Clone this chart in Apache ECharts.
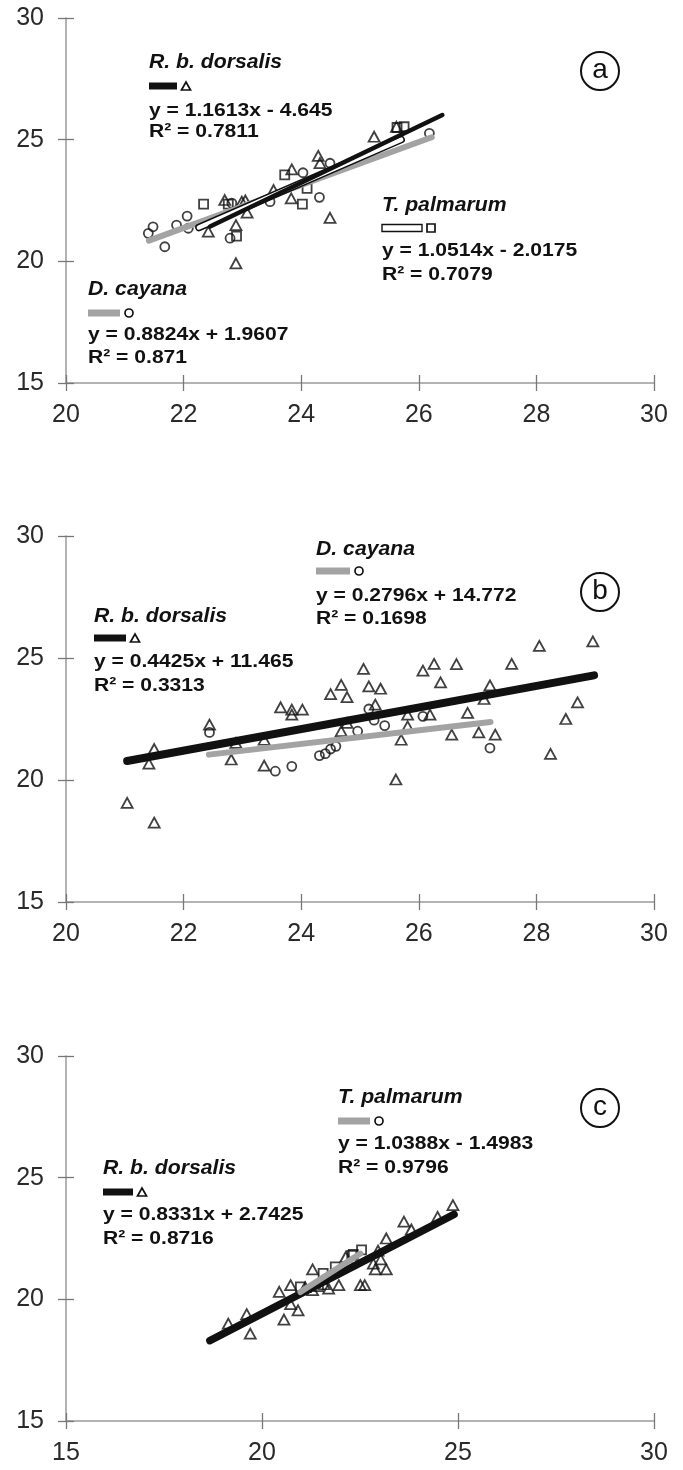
<!DOCTYPE html>
<html>
<head>
<meta charset="utf-8">
<script src="https://cdn.jsdelivr.net/npm/echarts@6/dist/echarts.min.js"></script>
<style>
html,body{margin:0;padding:0;background:#fff;}
#c{width:683px;height:1470px;}
</style>
</head>
<body>
<div id="c"></div>
<script>
// ---------- DATA ----------
// Panel (a)
const aDorsalisPts = [[22.42,21.22],[22.70,22.52],[22.89,21.49],[22.89,19.92],[22.99,22.45],[23.08,22.0],[23.05,22.5],[23.53,22.93],[23.84,23.78],[23.83,22.59],[24.29,24.33],[24.32,24.04],[24.49,21.79],[25.24,25.12],[25.62,25.53]];
const aPalmarumPts = [[22.34,22.35],[22.76,22.35],[22.90,21.04],[23.72,23.55],[24.10,23.0],[24.02,22.35],[25.63,25.5],[25.75,25.53]];
const aCayanaPts = [[21.40,21.15],[21.48,21.42],[21.68,20.60],[21.88,21.49],[22.06,21.86],[22.08,21.36],[22.79,20.95],[22.82,22.39],[23.47,22.45],[24.03,23.64],[24.31,22.63],[24.49,24.03],[26.18,25.26]];
const aDorsalisTrend = [[22.45,21.43],[26.40,26.01]];
const aPalmarumTrend = [[22.26,21.39],[25.70,25.00]];
const aCayanaTrend = [[21.41,20.85],[26.22,25.10]];
// Panel (b)
const bDorsalisPts = [[21.04,19.06],[21.41,20.67],[21.50,21.27],[21.50,18.25],[22.44,22.27],[22.81,20.84],[22.89,21.52],[23.37,21.65],[23.37,20.59],[23.65,22.98],[23.84,22.88],[23.84,22.68],[24.02,22.88],[24.50,23.52],[24.68,23.90],[24.78,23.40],[24.78,22.34],[24.68,22.0],[25.06,24.55],[25.15,23.84],[25.35,23.74],[25.26,23.09],[25.61,20.02],[25.70,21.65],[25.81,22.20],[25.81,22.68],[26.07,24.48],[26.26,24.76],[26.19,22.68],[26.37,24.0],[26.56,21.86],[26.64,24.75],[26.83,22.75],[27.02,21.95],[27.11,23.32],[27.21,23.88],[27.30,21.86],[27.58,24.76],[28.05,25.50],[28.24,21.07],[28.50,22.50],[28.70,23.18],[28.96,25.68]];
const bCayanaPts = [[22.44,21.95],[23.56,20.36],[23.84,20.56],[24.31,21.0],[24.41,21.08],[24.50,21.27],[24.59,21.38],[24.96,22.0],[25.15,22.91],[25.24,22.45],[25.42,22.23],[26.07,22.61],[27.21,21.31]];
const bDorsalisTrend = [[21.04,20.78],[28.98,24.29]];
const bCayanaTrend = [[22.43,21.04],[27.22,22.38]];
// Panel (c)
const cDorsalisPts = [[19.14,19.0],[19.61,19.39],[19.70,18.59],[20.44,20.31],[20.56,19.17],[20.73,20.58],[20.73,19.80],[20.92,19.55],[21.29,21.23],[21.29,20.38],[21.59,20.62],[21.70,20.44],[21.96,20.58],[22.14,21.75],[22.51,20.58],[22.62,20.58],[22.84,21.47],[22.89,21.23],[23.03,21.64],[23.17,21.23],[23.17,22.50],[23.62,23.19],[23.81,22.87],[24.48,23.39],[24.87,23.87],[22.96,22.0],[21.1,20.5]];
const cPalmarumPts = [[20.98,20.51],[21.44,20.52],[21.56,21.07],[21.87,21.33],[22.29,21.81],[22.33,21.85],[22.54,22.03]];
const cDorsalisTrend = [[18.67,18.30],[24.90,23.49]];
const cPalmarumTrend = [[20.98,20.30],[22.51,21.88]];
// Axes
const xRangeAB = {min:20, max:30, interval:2};
const xRangeC = {min:15, max:30, interval:5};
const yRange = {min:15, max:30, interval:5};

// ---------- CHART ----------
const chart = echarts.init(document.getElementById('c'), null, {renderer:'canvas'});
const AX = '#9a9a9a';
const GRAY = '#a3a3a3';
const tickFont = {fontFamily:'"Liberation Sans", Arial, sans-serif', fontSize:25, color:'#2a2a2a'};
const grids = [
  {left:66, top:18, width:588, height:365},
  {left:66, top:536, width:588, height:366},
  {left:66, top:1056, width:588, height:365}
];
function xAx(gi, r, inside){
  return {type:'value', gridIndex:gi, min:r.min, max:r.max, interval:r.interval, position:'bottom', offset:0,
    axisLine:{show:!inside, onZero:false, lineStyle:{color:AX, width:1.5}},
    axisTick:{show:true, inside:inside, length:8, lineStyle:{color:'#777', width:1.3}},
    axisLabel:{show:!inside, margin:20, ...tickFont},
    splitLine:{show:false}};
}
function yAx(gi, inside){
  return {type:'value', gridIndex:gi, min:yRange.min, max:yRange.max, interval:yRange.interval, position:'left', offset:0,
    axisLine:{show:!inside, onZero:false, lineStyle:{color:AX, width:1.5}},
    axisTick:{show:true, inside:inside, length:8, lineStyle:{color:'#777', width:1.3}},
    axisLabel:{show:!inside, margin:22, ...tickFont},
    splitLine:{show:false}};
}
const xAxis = [xAx(0,xRangeAB,false), xAx(1,xRangeAB,false), xAx(2,xRangeC,false), xAx(0,xRangeAB,true), xAx(1,xRangeAB,true), xAx(2,xRangeC,true)];
const yAxis = [yAx(0,false), yAx(1,false), yAx(2,false), yAx(0,true), yAx(1,true), yAx(2,true)];

function pts(data, gi, symbol, size){
  return {type:'scatter', xAxisIndex:gi, yAxisIndex:gi, data:data, symbol:symbol, symbolSize:size,
    itemStyle:{color:'rgba(255,255,255,0)', borderColor:'#111', borderWidth:1.8}, z:3, silent:true};
}
function trend(data, gi, color, width, z){
  return {type:'line', xAxisIndex:gi, yAxisIndex:gi, data:data, symbol:'none', z:z,
    lineStyle:{color:color, width:width, cap:'round'}, silent:true};
}
const series = [
  pts(aCayanaPts,0,'circle',9), pts(aPalmarumPts,0,'rect',9), pts(aDorsalisPts,0,'triangle',[11,10]),
  trend(aCayanaTrend,0,GRAY,6,4), trend(aPalmarumTrend,0,'#111',7.5,5), trend(aPalmarumTrend,0,'#fff',4.5,6), trend(aDorsalisTrend,0,'#111',4.5,7),
  pts(bCayanaPts,1,'circle',9), pts(bDorsalisPts,1,'triangle',[11,10]),
  trend(bDorsalisTrend,1,'#111',8,4), trend(bCayanaTrend,1,GRAY,6,5),
  pts(cPalmarumPts,2,'rect',9), pts(cDorsalisPts,2,'triangle',[11,10]),
  trend(cDorsalisTrend,2,'#111',7.5,4), trend(cPalmarumTrend,2,GRAY,6,5)
];

// ---------- ANNOTATIONS ----------
const TF = {font:'bold italic 20px "Liberation Sans", Arial, sans-serif', sx:1.06};
const EF = {font:'bold 18.5px "Liberation Sans", Arial, sans-serif', sx:1.14};
function txt(s, x, y, f){
  return {type:'text', z:20, x:x, y:y, scaleX:f.sx, scaleY:1,
    style:{text:s, x:0, y:0, font:f.font, fill:'#111', verticalAlign:'middle', textVerticalAlign:'middle', align:'left'}};
}
function block(title, eq, r2, x, yT, yS, yE, yR, lineStyle, lineW, marker){
  const g = [txt(title,x,yT,TF), txt(eq,x,yE,EF), txt(r2,x,yR,EF)];
  g.push({type:'rect', z:20, shape:{x:x, y:yS-3.5, width:lineW, height:7}, style:lineStyle});
  const mx = x + lineW + 9;
  if (marker==='triangle') g.push({type:'polygon', z:20, shape:{points:[[mx-4.5,yS+4],[mx+4.5,yS+4],[mx,yS-4]]}, style:{fill:'none', stroke:'#111', lineWidth:1.7}});
  if (marker==='circle') g.push({type:'circle', z:20, shape:{cx:mx, cy:yS, r:4}, style:{fill:'none', stroke:'#111', lineWidth:1.7}});
  if (marker==='rect') g.push({type:'rect', z:20, shape:{x:mx-4, y:yS-4, width:8, height:8}, style:{fill:'none', stroke:'#111', lineWidth:1.7}});
  return g;
}
function circ(letter, cx, cy){
  return [{type:'circle', z:20, shape:{cx:cx, cy:cy, r:19}, style:{fill:'none', stroke:'#111', lineWidth:2}},
          {type:'text', z:21, style:{text:letter, x:cx, y:cy-1, font:'28px "Liberation Sans", Arial, sans-serif', fill:'#111', align:'center', verticalAlign:'middle', textAlign:'center', textVerticalAlign:'middle'}}];
}
const blackFill = {fill:'#111'};
const grayFill = {fill:GRAY};
const whiteBox = {fill:'#fff', stroke:'#111', lineWidth:1.4};
const graphic = [].concat(
  block('R. b. dorsalis','y = 1.1613x - 4.645','R² = 0.7811',149,62,86,111,132,blackFill,28,'triangle'),
  block('T. palmarum','y = 1.0514x - 2.0175','R² = 0.7079',382,205,228,251,275,whiteBox,40,'rect'),
  block('D. cayana','y = 0.8824x + 1.9607','R² = 0.871',88,289,313,335,358,grayFill,32,'circle'),
  circ('a',600,71),
  block('D. cayana','y = 0.2796x + 14.772','R² = 0.1698',316,549,571,596,619,grayFill,34,'circle'),
  block('R. b. dorsalis','y = 0.4425x + 11.465','R² = 0.3313',94,616,638,662,686,blackFill,32,'triangle'),
  circ('b',600,592),
  block('T. palmarum','y = 1.0388x - 1.4983','R² = 0.9796',338,1097,1121,1144,1168,grayFill,32,'circle'),
  block('R. b. dorsalis','y = 0.8331x + 2.7425','R² = 0.8716',103,1168,1192,1215,1239,blackFill,30,'triangle'),
  circ('c',600,1108)
);

chart.setOption({
  animation:false,
  backgroundColor:'#fff',
  grid:grids, xAxis:xAxis, yAxis:yAxis, series:series, graphic:graphic
});
</script>
</body>
</html>
